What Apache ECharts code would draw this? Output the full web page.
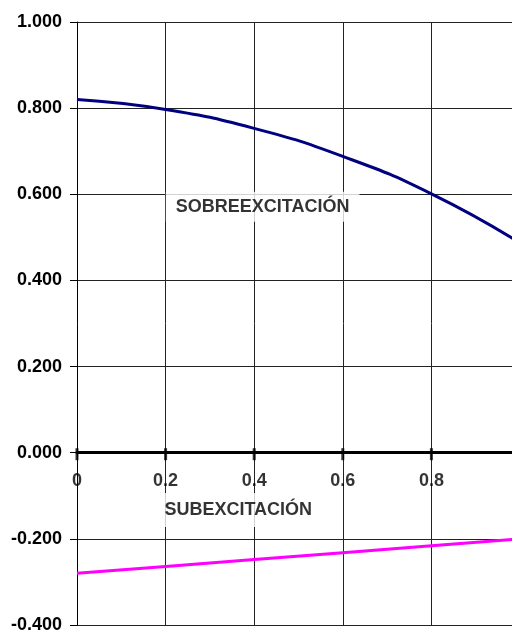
<!DOCTYPE html>
<html>
<head>
<meta charset="utf-8">
<script src="https://cdn.jsdelivr.net/npm/echarts@6/dist/echarts.min.js"></script>
<style>html,body{margin:0;padding:0;background:#fff;}#c{width:512px;height:631px;}</style>
</head>
<body>
<div id="c"></div>
<script>
// Data
var xValues = [0, 0.2, 0.4, 0.6, 0.8, 1.0];
var sobreValues = [0.820, 0.797, 0.753, 0.688, 0.601, 0.487];
var subValues = [-0.280, -0.264, -0.248, -0.232, -0.216, -0.200];
var xTickLabels = ['0', '0.2', '0.4', '0.6', '0.8'];
var xTickValues = [0, 0.2, 0.4, 0.6, 0.8, 1.0];
var textLabels = ['SOBREEXCITACIÓN', 'SUBEXCITACIÓN'];
var textPos = [[0.419, 0.571], [0.364, -0.133]];

var FONT = '"Liberation Sans", Arial, sans-serif';
var chart = echarts.init(document.getElementById('c'), null, {renderer: 'canvas'});

function pairs(xs, ys) { return xs.map(function (x, i) { return [x, ys[i]]; }); }

var option = {
  animation: false,
  backgroundColor: '#fff',
  grid: {left: 77, top: 22, width: 443, height: 603, containLabel: false, outerBoundsMode: 'none'},
  xAxis: {
    type: 'value', min: 0, max: 1, interval: 0.2,
    axisLine: {onZero: true, lineStyle: {color: '#000', width: 3}},
    axisTick: {show: false},
    axisLabel: {show: false},
    splitLine: {show: true, lineStyle: {color: '#222', width: 1}}
  },
  yAxis: {
    type: 'value', min: -0.4, max: 1.0, interval: 0.2,
    axisLine: {show: true, onZero: false, lineStyle: {color: '#000', width: 1}},
    axisTick: {show: true, length: 7, lineStyle: {color: '#000', width: 1}},
    axisLabel: {
      margin: 15, color: '#000', fontFamily: FONT, fontWeight: 'bold', fontSize: 18,
      formatter: function (v) { return v.toFixed(3); }
    },
    splitLine: {show: true, lineStyle: {color: '#222', width: 1}}
  },
  series: [{
    type: 'line', name: 'sobre', data: pairs(xValues, sobreValues), smooth: true,
    showSymbol: false, symbol: 'none', lineStyle: {color: '#000080', width: 3}, z: 3
  }, {
    type: 'line', name: 'sub', data: pairs(xValues, subValues),
    showSymbol: false, symbol: 'none', lineStyle: {color: '#FF00FF', width: 3}, z: 3
  }, {
    // tick marks crossing the zero axis
    type: 'scatter', silent: true, z: 5,
    symbol: 'rect', symbolSize: [3, 12], symbolOffset: [0, 1.5],
    itemStyle: {color: '#000'},
    data: xTickValues.map(function (v) { return [v, 0]; })
  }, {
    // x tick labels below the zero axis
    type: 'scatter', silent: true, z: 5, symbolSize: 0,
    data: xTickLabels.map(function (t, i) {
      return {
        value: [xTickValues[i], 0],
        label: {
          show: true, position: 'bottom', distance: 19, formatter: t,
          color: '#000', fontFamily: FONT, fontWeight: 'bold', fontSize: 18
        }
      };
    })
  }, {
    type: 'scatter', symbolSize: 0, z: 4, silent: true,
    data: textPos.map(function (p, i) {
      return {
        value: p,
        label: {
          show: true, position: 'inside', formatter: textLabels[i],
          color: '#000', fontFamily: FONT, fontWeight: 'bold', fontSize: 18, lineHeight: 18,
          backgroundColor: '#fff', padding: i === 0 ? [6, 10] : [8, 10]
        }
      };
    })
  }]
};
chart.setOption(option);
</script>
</body>
</html>
